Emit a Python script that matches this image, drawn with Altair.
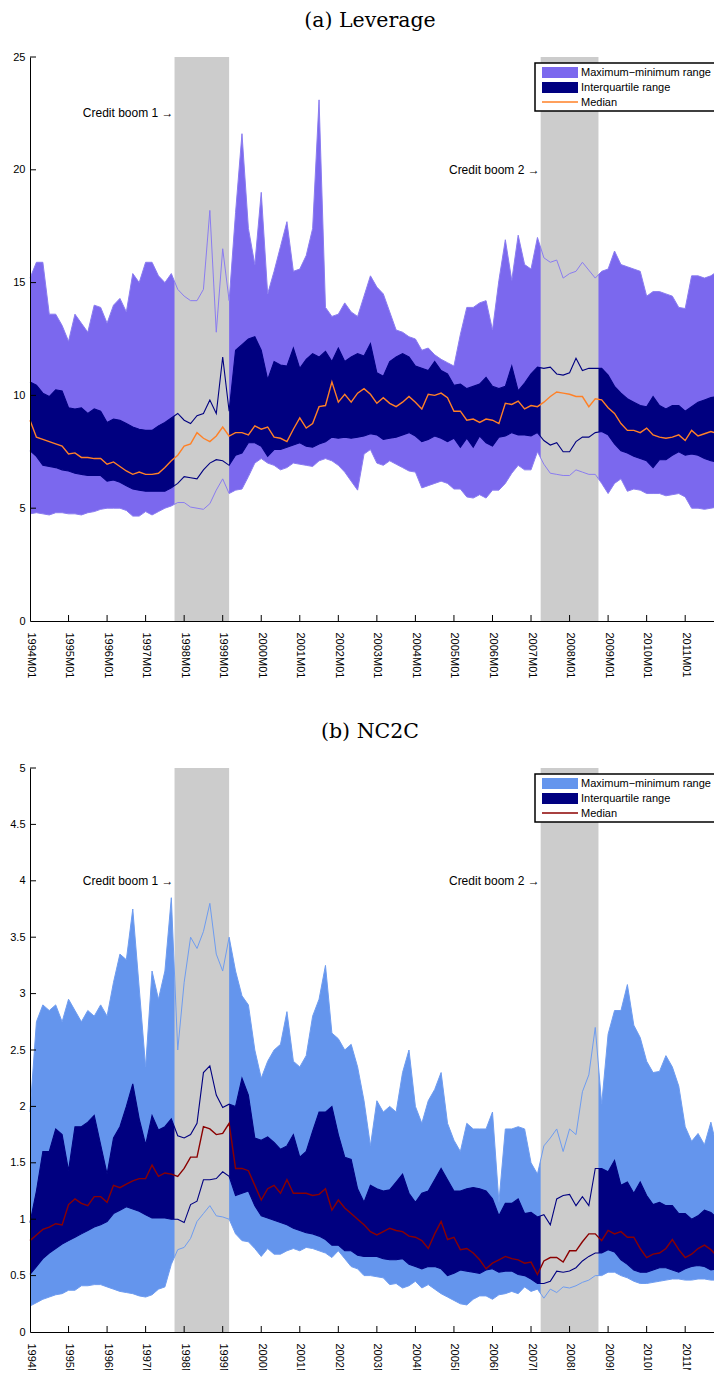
import altair as alt
import pandas as pd

# ---------------- data (every 2 months, 0 = 1994M01) ----------------
month_index = list(range(0, 217, 2))

lev_max = [15.2, 15.9, 15.9, 13.6, 13.6, 13.1, 12.4, 13.6, 13.2, 12.8,
           14.0, 13.9, 13.2, 14.0, 14.3, 13.7, 15.4, 15.0, 15.9, 15.9,
           15.3, 15.0, 15.4, 14.7, 14.4, 14.2, 14.2, 14.7, 18.2, 12.8,
           16.5, 14.2, 18.1, 21.6, 17.4, 15.8, 19.0, 14.5, 15.5, 16.6,
           17.7, 15.5, 15.6, 16.2, 17.4, 23.1, 13.9, 13.5, 13.6, 14.1,
           13.7, 13.5, 14.4, 15.3, 14.8, 14.5, 13.7, 12.9, 12.8, 12.6,
           12.5, 12.0, 12.1, 11.8, 11.6, 11.45, 11.3, 12.7, 13.9, 13.9,
           14.1, 14.2, 12.9, 15.1, 16.9, 15.1, 17.1, 15.8, 15.6, 17.0,
           16.1, 15.9, 16.0, 15.2, 15.4, 15.5, 15.9, 15.55, 15.2, 15.5,
           15.6, 16.4, 15.8, 15.7, 15.6, 15.5, 14.4, 14.6, 14.6, 14.5,
           14.4, 13.9, 13.85, 15.3, 15.3, 15.2, 15.3, 15.5, 15.5]
lev_q3 = [10.6, 10.45, 10.1, 9.95, 10.25, 10.2, 9.45, 9.4, 9.45, 9.2,
          9.4, 9.3, 8.8, 8.95, 8.9, 8.75, 8.6, 8.5, 8.45, 8.45,
          8.65, 8.8, 9.0, 9.2, 8.9, 8.75, 9.1, 9.2, 9.8, 9.2,
          11.7, 9.3, 12.0, 12.25, 12.5, 12.6, 12.0, 10.7, 11.5, 11.35,
          11.3, 12.1, 11.2, 11.6, 11.85, 11.7, 11.95, 11.5, 12.1, 11.5,
          11.7, 11.85, 11.75, 12.3, 11.0, 10.85, 11.5, 11.7, 11.85, 11.7,
          11.3, 11.2, 11.1, 11.5, 11.1, 10.95, 10.45, 10.5, 10.3, 10.4,
          10.5, 10.8, 10.4, 10.3, 10.4, 11.3, 10.2, 10.55, 10.95, 11.25,
          11.2, 11.25, 10.95, 10.9, 11.0, 11.65, 11.1, 11.2, 11.2, 11.2,
          10.9, 10.4, 10.1, 9.85, 9.7, 9.55, 9.5, 9.95, 9.55, 9.4,
          9.55, 9.55, 9.3, 9.5, 9.7, 9.8, 9.9, 9.95, 9.95]
lev_med = [8.9, 8.15, 8.05, 7.95, 7.85, 7.75, 7.4, 7.45, 7.25, 7.25,
           7.2, 7.2, 6.95, 7.05, 6.85, 6.65, 6.5, 6.6, 6.5, 6.5,
           6.55, 6.8, 7.1, 7.35, 7.75, 7.85, 8.35, 8.1, 7.95, 8.2,
           8.6, 8.2, 8.35, 8.35, 8.25, 8.65, 8.5, 8.6, 8.15, 8.1,
           7.95, 8.5, 9.0, 8.55, 8.75, 9.5, 9.55, 10.6, 9.7, 10.05,
           9.7, 10.1, 10.3, 10.05, 9.65, 9.9, 9.65, 9.5, 9.7, 9.95,
           9.7, 9.4, 10.05, 10.0, 10.1, 9.9, 9.3, 9.3, 8.9, 8.95,
           8.8, 8.95, 8.9, 8.75, 9.65, 9.6, 9.75, 9.4, 9.55, 9.5,
           9.7, 9.95, 10.15, 10.1, 10.05, 9.95, 9.95, 9.5, 9.85, 9.8,
           9.45, 9.2, 8.75, 8.45, 8.45, 8.35, 8.55, 8.25, 8.15, 8.1,
           8.15, 8.25, 8.0, 8.45, 8.2, 8.3, 8.4, 8.3, 8.3]
lev_q1 = [7.55, 7.3, 6.9, 6.85, 6.8, 6.7, 6.65, 6.55, 6.5, 6.45,
          6.45, 6.45, 6.2, 6.25, 6.15, 6.0, 5.85, 5.8, 5.75, 5.75,
          5.75, 5.75, 5.9, 6.1, 6.4, 6.35, 6.3, 6.7, 7.0, 7.15,
          7.1, 6.9, 7.35, 7.45, 7.9, 7.9, 7.75, 7.3, 7.6, 7.6,
          7.7, 7.8, 7.9, 7.75, 7.7, 7.85, 7.95, 8.15, 8.1, 8.15,
          8.1, 8.15, 8.2, 8.3, 8.25, 8.05, 8.1, 8.15, 8.25, 8.35,
          8.2, 7.95, 8.05, 8.2, 8.1, 7.95, 8.1, 7.7, 8.1, 7.7,
          8.2, 7.9, 7.75, 8.15, 8.2, 8.35, 8.25, 8.25, 8.2, 8.35,
          8.0, 7.8, 7.9, 7.5, 7.5, 7.95, 8.15, 8.15, 8.35, 8.4,
          8.25, 7.85, 7.55, 7.45, 7.3, 7.2, 7.1, 6.8, 7.15, 7.15,
          7.35, 7.5, 7.35, 7.4, 7.35, 7.2, 7.1, 7.05, 7.05]
lev_min = [4.75, 4.8, 4.75, 4.7, 4.8, 4.8, 4.75, 4.75, 4.7, 4.8,
           4.85, 4.95, 5.0, 5.0, 5.0, 4.9, 4.65, 4.65, 4.85, 4.7,
           4.85, 5.0, 5.1, 5.25, 5.25, 5.05, 5.0, 4.95, 5.2, 5.8,
           6.3, 5.65, 5.8, 5.85, 6.4, 7.0, 7.2, 7.0, 6.9, 6.7,
           6.8, 7.0, 6.95, 6.9, 6.85, 7.1, 7.2, 7.1, 6.9, 6.6,
           6.2, 5.8, 7.4, 7.6, 7.0, 6.9, 7.1, 6.95, 6.8, 6.65,
           6.6, 5.9, 6.0, 6.1, 6.2, 6.1, 5.85, 5.85, 5.5, 5.45,
           5.6, 5.45, 5.8, 5.8, 6.1, 6.55, 6.9, 6.7, 6.7, 7.5,
           6.95, 6.55, 6.5, 6.45, 6.45, 6.7, 6.6, 6.5, 6.5, 6.1,
           5.65, 6.1, 6.3, 5.75, 5.85, 5.8, 5.65, 5.65, 5.65, 5.55,
           5.6, 5.65, 5.5, 5.0, 5.0, 4.95, 5.0, 5.05, 5.05]

nc_max = [1.95, 2.75, 2.9, 2.85, 2.9, 2.75, 2.95, 2.85, 2.75, 2.85,
          2.8, 2.9, 2.8, 3.1, 3.35, 3.3, 3.75, 3.05, 2.35, 3.2,
          2.95, 3.2, 3.85, 2.5, 3.1, 3.5, 3.4, 3.55, 3.8, 3.35,
          3.2, 3.5, 3.2, 2.98, 2.9, 2.5, 2.25, 2.4, 2.5, 2.55,
          2.84, 2.4, 2.35, 2.45, 2.8, 2.95, 3.25, 2.65, 2.6, 2.5,
          2.55, 2.35, 2.05, 1.65, 2.05, 1.95, 2.0, 1.95, 2.3, 2.5,
          2.0, 1.85, 2.05, 2.15, 2.3, 1.85, 1.7, 1.6, 1.85, 1.8,
          1.8, 1.8, 1.95, 1.15, 1.8, 1.8, 1.82, 1.8, 1.5, 1.4,
          1.65, 1.72, 1.8, 1.6, 1.8, 1.75, 2.13, 2.28, 2.7, 2.02,
          2.64, 2.85, 2.85, 3.08, 2.72, 2.61, 2.4, 2.3, 2.31, 2.45,
          2.35, 2.18, 1.82, 1.69, 1.76, 1.66, 1.86, 1.62, 1.65]
nc_q3 = [0.97, 1.25, 1.6, 1.6, 1.8, 1.75, 1.43, 1.82, 1.82, 1.86,
         1.92, 1.66, 1.4, 1.72, 1.82, 2.0, 2.2, 1.89, 1.66, 1.92,
         1.79, 1.82, 1.89, 1.74, 1.72, 1.75, 1.85, 2.3, 2.36, 2.1,
         1.99, 2.02, 2.0, 2.25, 2.1, 1.72, 1.7, 1.73, 1.68, 1.62,
         1.65, 1.75, 1.55, 1.6, 1.78, 1.95, 1.95, 2.0, 1.75, 1.55,
         1.53, 1.27, 1.15, 1.3, 1.27, 1.25, 1.26, 1.33, 1.4, 1.23,
         1.15, 1.23, 1.25, 1.35, 1.45, 1.35, 1.25, 1.25, 1.27, 1.28,
         1.27, 1.25, 1.18, 1.03, 1.14, 1.14, 1.18, 1.05, 1.06, 1.02,
         1.04, 0.95, 1.18, 1.21, 1.22, 1.12, 1.2, 1.12, 1.45, 1.45,
         1.42, 1.52, 1.3, 1.33, 1.23, 1.33, 1.21, 1.13, 1.15, 1.12,
         1.12, 1.05, 1.05, 1.0, 1.03, 1.08, 1.06, 1.01, 1.01]
nc_med = [0.81, 0.86, 0.91, 0.93, 0.96, 0.95, 1.13, 1.18, 1.14, 1.12,
          1.2, 1.2, 1.15, 1.3, 1.28, 1.31, 1.34, 1.36, 1.36, 1.48,
          1.38, 1.41, 1.4, 1.38, 1.45, 1.55, 1.55, 1.82, 1.8, 1.75,
          1.76, 1.85, 1.45, 1.45, 1.43, 1.3, 1.17, 1.27, 1.3, 1.23,
          1.35, 1.23, 1.23, 1.23, 1.21, 1.22, 1.27, 1.08, 1.17, 1.1,
          1.05, 1.0, 0.95, 0.89, 0.86, 0.89, 0.92, 0.9, 0.89, 0.85,
          0.84, 0.81, 0.74, 0.87, 0.98, 0.82, 0.84, 0.73, 0.74, 0.7,
          0.64, 0.56, 0.61, 0.64, 0.67, 0.65, 0.64, 0.61, 0.62, 0.51,
          0.63, 0.66, 0.66, 0.62, 0.72, 0.72, 0.8, 0.87, 0.87, 0.81,
          0.9, 0.87, 0.89, 0.84, 0.84, 0.74, 0.66, 0.69, 0.7, 0.74,
          0.82, 0.73, 0.66, 0.69, 0.74, 0.77, 0.73, 0.67, 0.67]
nc_q1 = [0.51, 0.58, 0.65, 0.7, 0.74, 0.78, 0.81, 0.84, 0.87, 0.9,
         0.93, 0.95, 0.98, 1.05, 1.08, 1.11, 1.09, 1.07, 1.04, 1.01,
         1.01, 1.01, 1.0, 1.0, 0.97, 1.13, 1.16, 1.35, 1.35, 1.36,
         1.42, 1.38, 1.21, 1.23, 1.25, 1.12, 1.03, 1.01, 0.99, 0.97,
         0.95, 0.92, 0.9, 0.88, 0.87, 0.85, 0.82, 0.77, 0.77, 0.72,
         0.72, 0.68, 0.67, 0.67, 0.67, 0.65, 0.64, 0.64, 0.65, 0.6,
         0.58, 0.56, 0.58, 0.58, 0.56, 0.5, 0.52, 0.55, 0.54, 0.53,
         0.52, 0.55, 0.56, 0.53, 0.54, 0.54, 0.51, 0.5, 0.47, 0.43,
         0.43, 0.45, 0.54, 0.53, 0.54, 0.57, 0.63, 0.67, 0.7, 0.7,
         0.73, 0.71, 0.64, 0.6, 0.55, 0.53, 0.53, 0.55, 0.57, 0.57,
         0.55, 0.53, 0.56, 0.58, 0.59, 0.58, 0.55, 0.56, 0.57]
nc_min = [0.23, 0.26, 0.29, 0.31, 0.33, 0.34, 0.37, 0.37, 0.41, 0.41,
          0.42, 0.42, 0.4, 0.38, 0.36, 0.35, 0.34, 0.32, 0.31, 0.33,
          0.38, 0.4, 0.6, 0.73, 0.75, 0.83, 0.98, 1.05, 1.12, 1.03,
          1.02, 1.0, 0.87, 0.81, 0.8, 0.74, 0.67, 0.74, 0.69, 0.69,
          0.72, 0.74, 0.72, 0.75, 0.74, 0.72, 0.7, 0.66, 0.72, 0.65,
          0.58, 0.56, 0.5, 0.5, 0.49, 0.48, 0.42, 0.43, 0.39, 0.41,
          0.45, 0.39, 0.42, 0.38, 0.34, 0.31, 0.28, 0.25, 0.24, 0.29,
          0.32, 0.32, 0.29, 0.33, 0.34, 0.36, 0.34, 0.4, 0.36, 0.38,
          0.3, 0.38, 0.35, 0.4, 0.39, 0.41, 0.44, 0.46, 0.5, 0.5,
          0.53, 0.53, 0.5, 0.48, 0.45, 0.43, 0.43, 0.44, 0.45, 0.46,
          0.47, 0.47, 0.46, 0.46, 0.47, 0.47, 0.46, 0.46, 0.47]

boom_start = [45, 159]          # 1997M10, 2007M04
boom_end = [62, 177]            # 1999M03, 2008M10
boom_text = ["Credit boom 1 \u2192", "Credit boom 2 \u2192"]
lev_boom_label_y = [22.5, 20.0]
nc_boom_label_y = [4.0, 4.0]
legend_labels = ["Maximum\u2212minimum range", "Interquartile range", "Median"]

year_ticks = list(range(12, 217, 12))
label_ticks = list(range(0, 217, 12))

for arr in [lev_max, lev_q3, lev_med, lev_q1, lev_min, nc_max, nc_q3, nc_med, nc_q1, nc_min]:
    assert len(arr) == len(month_index), len(arr)

# ---------------- layout / style ----------------
XMAX = 222
W = 713
H = 564
SANS = "Liberation Sans"
SERIF = "DejaVu Serif"
GRAY = "#cccccc"
NAVY = "#000080"


def panel(title, series, range_color, edge_color, med_color, ymax, ystep, label_y, yfmt):
    mx, q3, med, q1, mn = series
    df = pd.DataFrame({"m": month_index, "mx": mx, "q3": q3, "med": med, "q1": q1, "mn": mn})
    xs = alt.Scale(domain=[0, XMAX], nice=False, zero=False)
    ys = alt.Scale(domain=[0, ymax], nice=False, zero=False)
    yvals = [round(i * ystep, 2) for i in range(int(round(ymax / ystep)) + 1)]

    xaxis = alt.Axis(values=label_ticks, labelExpr="toString(1994 + datum.value / 12) + 'M01'",
                     labelAngle=90, labelFlush=False, labelOverlap=False, ticks=False,
                     labelPadding=11, labelFont=SANS, labelFontSize=11, labelColor="black",
                     domainColor="black", domainWidth=1, grid=False, title=None, zindex=2)
    yaxis = alt.Axis(values=yvals, format=yfmt, ticks=False, labelPadding=5, labelFont=SANS,
                     labelFontSize=11, labelColor="black", domainColor="black", domainWidth=1,
                     grid=False, title=None, zindex=2)

    def X(f):
        return alt.X(f, scale=xs, axis=xaxis, title=None)

    def Y(f):
        return alt.Y(f, scale=ys, axis=yaxis, title=None)

    base = alt.Chart(df)
    range_area = base.mark_area(color=range_color, opacity=1).encode(x=X("m:Q"), y=Y("mn:Q"), y2="mx:Q")
    iqr_area = base.mark_area(color=NAVY, opacity=1).encode(x=X("m:Q"), y=Y("q1:Q"), y2="q3:Q")

    bdf = pd.DataFrame({"s": boom_start, "e": boom_end, "t": boom_text, "ly": label_y})
    shade = alt.Chart(bdf).mark_rect(color=GRAY, opacity=1).encode(
        x=X("s:Q"), x2="e:Q", y=alt.value(0), y2=alt.value(H))

    def line(col, color, width):
        return base.mark_line(color=color, strokeWidth=width).encode(x=X("m:Q"), y=Y(f"{col}:Q"))

    lines = [line("mx", edge_color, 1), line("mn", edge_color, 1),
             line("q3", NAVY, 1.1), line("q1", NAVY, 1.1), line("med", med_color, 1.4)]

    notes = alt.Chart(bdf).mark_text(align="right", baseline="middle", font=SANS, fontSize=12,
                                     color="black", dx=-1).encode(x=X("s:Q"), y=Y("ly:Q"), text="t:N")

    xt = alt.Chart(pd.DataFrame({"t": year_ticks})).mark_rule(color="black", strokeWidth=1).encode(
        x=X("t:Q"), y=alt.value(H - 6), y2=alt.value(H))
    yt = alt.Chart(pd.DataFrame({"v": yvals[1:]})).mark_rule(color="black", strokeWidth=1).encode(
        y=Y("v:Q"), x=alt.value(0), x2=alt.value(6))

    one = pd.DataFrame({"k": [0]})
    box = alt.Chart(one).mark_rect(fill="white", stroke="black", strokeWidth=1.5).encode(
        x=alt.value(505), x2=alt.value(712), y=alt.value(6), y2=alt.value(54))
    sw1 = alt.Chart(one).mark_rect(color=range_color).encode(
        x=alt.value(512), x2=alt.value(548), y=alt.value(10), y2=alt.value(21))
    sw2 = alt.Chart(one).mark_rect(color=NAVY).encode(
        x=alt.value(512), x2=alt.value(548), y=alt.value(25), y2=alt.value(36))
    sw3 = alt.Chart(one).mark_rule(color=med_color, strokeWidth=1.4).encode(
        x=alt.value(512), x2=alt.value(548), y=alt.value(45))
    ltexts = [alt.Chart(one).mark_text(align="left", baseline="middle", font=SANS, fontSize=11,
                                       color="black", text=t).encode(x=alt.value(551), y=alt.value(py))
              for t, py in zip(legend_labels, [16, 31, 46])]

    layers = [range_area, iqr_area, shade] + lines + [notes, xt, yt, box, sw1, sw2, sw3] + ltexts
    return alt.layer(*layers).properties(
        width=W, height=H,
        title=alt.TitleParams(title, font=SERIF, fontSize=20.5, fontWeight="normal", color="black",
                              anchor="start", align="center", frame="group", dx=340, offset=20))


pa = panel("(a) Leverage", [lev_max, lev_q3, lev_med, lev_q1, lev_min], "#7B68EE", "#8A7CF0",
           "#FF8026", 25, 5, lev_boom_label_y, "d")
pb = panel("(b) NC2C", [nc_max, nc_q3, nc_med, nc_q1, nc_min], "#6495ED", "#6E9CF0",
           "#8B0000", 5, 0.5, nc_boom_label_y, "~g")

chart = alt.vconcat(pa, pb, spacing=43).properties(
    padding={"left": 1, "top": 2, "right": -29, "bottom": -19}
).configure_view(stroke=None)

chart.save("out.html", embed_options={"renderer": "svg", "actions": False})
